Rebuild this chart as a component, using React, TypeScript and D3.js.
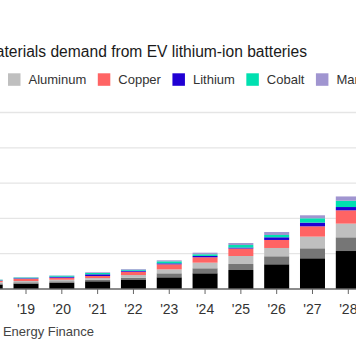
import React from "react";
import * as d3 from "d3";

const years = ["'18", "'19", "'20", "'21", "'22", "'23", "'24", "'25", "'26", "'27", "'28"];
const seriesNames = ["Graphite", "Nickel", "Aluminum", "Copper", "Lithium", "Cobalt", "Manganese"];
const seriesColors = ["#000000", "#767676", "#bfbfbf", "#ff6464", "#2000d4", "#00e0b0", "#a095d0"];

const graphite = [12.7, 15, 17.8, 21.8, 25.5, 33.1, 44.5, 53.8, 70, 87, 107.6];
const nickel = [3.4, 4, 4, 4.5, 6.5, 11.3, 14.2, 17, 22.7, 28.3, 38.8];
const aluminum = [3.1, 3.7, 4.5, 4.8, 7.6, 11.3, 15.9, 22.7, 23.5, 33.1, 38.8];
const copper = [4.2, 6.5, 5.7, 5.7, 9.3, 14.2, 15.3, 21.2, 22.7, 29.2, 37.7];
const lithium = [1.1, 1.4, 2.8, 4.8, 2.8, 2.8, 3.7, 2.8, 7.6, 10.5, 9.3];
const cobalt = [1.7, 2, 2.8, 3.7, 2.8, 5.7, 4.8, 7.1, 6.5, 12.2, 17.8];
const manganese = [0.6, 0.8, 0.8, 2, 2, 2.8, 4.5, 5.7, 8.5, 8.5, 12.2];

const gridValues = [100, 200, 300, 400, 500];

const title = "Raw materials demand from EV lithium-ion batteries";
const source = "Source: Bloomberg New Energy Finance";

const FONT = "'Liberation Sans', Arial, Helvetica, sans-serif";

function measure(text: string, size: number) {
  const c = document.createElement("canvas").getContext("2d");
  if (!c) return text.length * size * 0.55;
  c.font = `${size}px ${FONT}`;
  return c.measureText(text).width;
}

export default function App() {
  const W = 356;
  const H = 364;
  const baseY = 289;
  const step = 35.81;
  const c0 = -9.8;

  const x = d3
    .scaleBand<string>()
    .domain(years)
    .range([c0 - step / 2, c0 - step / 2 + step * years.length])
    .paddingInner(0.302)
    .paddingOuter(0.151);

  const y = d3.scaleLinear().domain([0, 500]).range([baseY, baseY - 5 * 35.3]);

  const seriesArrays = [graphite, nickel, aluminum, copper, lithium, cobalt, manganese];
  const rows = years.map((yr, i) => {
    const r: any = { year: yr };
    seriesNames.forEach((n, k) => (r[n] = seriesArrays[k][i]));
    return r;
  });
  const stacked = d3.stack<any>().keys(seriesNames)(rows);

  // legend layout: Aluminum swatch at x=8
  const sw = 12.5;
  const gapSwText = 8;
  const gapItem = 11.5;
  const widths = seriesNames.map((n) => sw + gapSwText + measure(n, 13));
  const alIdx = 2;
  const starts: number[] = [];
  starts[alIdx] = 8;
  for (let i = alIdx + 1; i < seriesNames.length; i++) starts[i] = starts[i - 1] + widths[i - 1] + gapItem;
  for (let i = alIdx - 1; i >= 0; i--) starts[i] = starts[i + 1] - gapItem - widths[i];

  return (
    <svg
      width={W}
      height={H}
      style={{ position: "absolute", left: 0, top: 0, background: "#fff" }}
      fontFamily={FONT}
    >
      <text x={307} y={57} textAnchor="end" fontSize={15.6} fill="#1a1a1a">
        {title}
      </text>
      {seriesNames.map((n, i) => (
        <g key={n} transform={`translate(${starts[i]},0)`}>
          <rect x={0} y={73.3} width={sw} height={sw} fill={seriesColors[i]} />
          <text x={sw + gapSwText} y={84.3} fontSize={13} fill="#333">
            {n}
          </text>
        </g>
      ))}
      {gridValues.map((v) => (
        <line key={v} x1={0} x2={W} y1={y(v)} y2={y(v)} stroke="#e5e5e5" strokeWidth={1.3} />
      ))}
      {stacked.map((s, k) => (
        <g key={s.key} fill={seriesColors[k]}>
          {s.map((d, i) => (
            <rect
              key={i}
              x={x(years[i])}
              width={x.bandwidth()}
              y={y(d[1])}
              height={y(d[0]) - y(d[1])}
            />
          ))}
        </g>
      ))}
      <line x1={0} x2={W} y1={baseY} y2={baseY} stroke="#666" strokeWidth={1.5} />
      {years.map((yr) => {
        const cx = (x(yr) as number) + x.bandwidth() / 2;
        return (
          <g key={yr}>
            <line x1={cx} x2={cx} y1={baseY} y2={baseY + 5} stroke="#666" strokeWidth={1} />
            <text x={cx} y={313.5} textAnchor="middle" fontSize={14} fill="#333">
              {yr}
            </text>
          </g>
        );
      })}
      <text x={94} y={336} textAnchor="end" fontSize={13} fill="#444">
        {source}
      </text>
    </svg>
  );
}
